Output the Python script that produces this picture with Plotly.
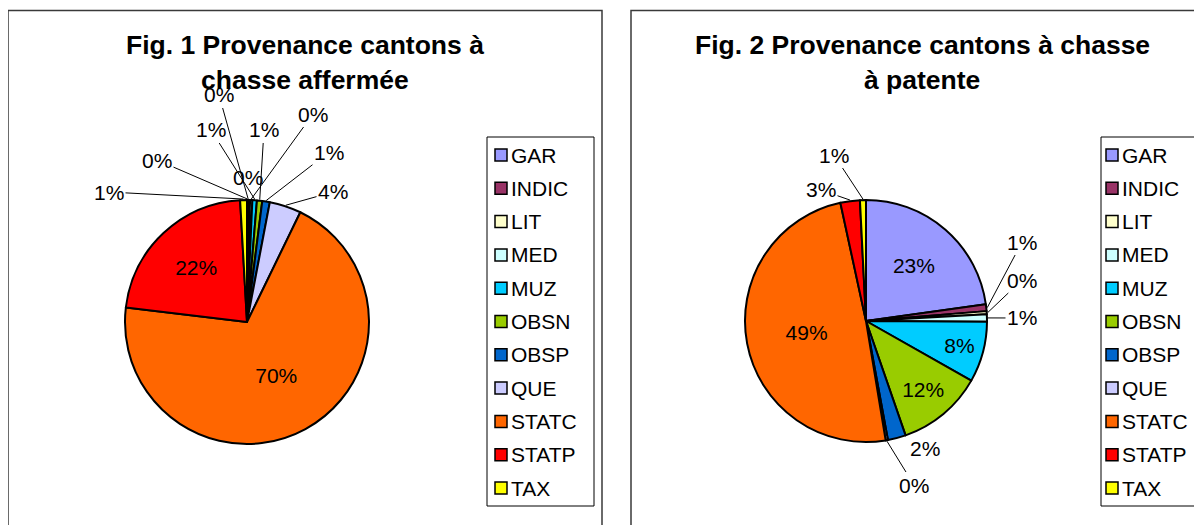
import math
import plotly.graph_objects as go

# ---------------- data ----------------
CATEGORIES = ["GAR", "INDIC", "LIT", "MED", "MUZ", "OBSN", "OBSP", "QUE", "STATC", "STATP", "TAX"]
FIG1_VALUES = [0.1, 0.1, 0.2, 0.3, 0.6, 0.7, 1.0, 4.2, 69.7, 22.2, 0.9]
FIG2_VALUES = [22.8, 0.9, 0.4, 1.0, 8.1, 11.5, 2.4, 0.3, 49.2, 2.6, 0.8]
TITLE1 = ["Fig. 1 Provenance cantons à", "chasse affermée"]
TITLE2 = ["Fig. 2 Provenance cantons à chasse", "à patente"]

# ---------------- style / layout ----------------
COLORS = ["#9999FF", "#993366", "#FFFFCC", "#CCFFFF", "#00CCFF", "#99CC00",
          "#0066CC", "#CCCCFF", "#FF6600", "#FF0000", "#FFFF00"]
W, H = 1202, 525
OFF = 8  # page body margin
FONT = "Arial, Liberation Sans, sans-serif"
LABEL_SIZE = 21
TITLE_SIZE = 26.5

PIE1 = dict(cx=247, cy=322, r=122)
PIE2 = dict(cx=866, cy=321, r=121)
INSIDE1 = {"STATC", "STATP"}
INSIDE2 = {"GAR", "MUZ", "OBSN", "STATC"}
# outside label placements (page pixels)
OUT1 = {"GAR": (157, 160), "INDIC": (219, 95), "LIT": (248, 177), "MED": (313, 114),
        "MUZ": (211, 130), "OBSN": (264, 130), "OBSP": (329, 152), "QUE": (333, 192),
        "TAX": (109, 192)}
OUT2 = {"INDIC": (1022, 242), "LIT": (1022, 280), "MED": (1022, 318), "OBSP": (925, 448),
        "QUE": (914, 485), "STATP": (821, 190), "TAX": (834, 155)}
# legend boxes: (left, right, square inset)
LEGENDS = [(487, 594, 8), (1101, 1199, 5)]


def px(x):
    return (x - OFF) / W


def py(y):
    return 1 - (y - OFF) / H


fig = go.Figure()
annotations = []
shapes = []


def add_pie(values, geo, inside, outside):
    total = sum(values)
    texts = [f"{round(v / total * 100)}%" for v in values]
    cx, cy, r = geo["cx"], geo["cy"], geo["r"]
    fig.add_trace(go.Pie(
        labels=CATEGORIES, values=values, sort=False, direction="clockwise", rotation=0,
        marker=dict(colors=COLORS, line=dict(color="black", width=2)),
        text=texts, textinfo="text",
        textposition=["inside" if c in inside else "none" for c in CATEGORIES],
        insidetextorientation="horizontal",
        textfont=dict(family=FONT, size=LABEL_SIZE, color="black"),
        domain=dict(x=[px(cx - r), px(cx + r)], y=[py(cy + r), py(cy - r)]),
        showlegend=False, hoverinfo="label+percent",
    ))
    cum = 0.0
    for c, v, t in zip(CATEGORIES, values, texts):
        mid = (cum + v / 2) / total
        cum += v
        if c not in outside:
            continue
        th = 2 * math.pi * mid
        tx = cx + (r + 1) * math.sin(th)
        ty = cy - (r + 1) * math.cos(th)
        lx, ly = outside[c]
        dist = math.hypot(lx - tx, ly - ty)
        if dist > 30:
            annotations.append(dict(
                x=px(tx), y=py(ty), xref="paper", yref="paper", text=t,
                showarrow=True, arrowhead=0, arrowwidth=1, arrowcolor="black",
                ax=lx - tx, ay=ly - ty, standoff=0,
                font=dict(family=FONT, size=LABEL_SIZE, color="black"),
            ))
        else:
            annotations.append(dict(
                x=px(lx), y=py(ly), xref="paper", yref="paper", text=t, showarrow=False,
                xanchor="center", yanchor="middle",
                font=dict(family=FONT, size=LABEL_SIZE, color="black"),
            ))


add_pie(FIG1_VALUES, PIE1, INSIDE1, OUT1)
add_pie(FIG2_VALUES, PIE2, INSIDE2, OUT2)

# chart boxes
for x0, x1 in [(8, 602), (631, 1230)]:
    shapes.append(dict(type="rect", xref="paper", yref="paper", x0=px(x0), x1=px(x1),
                       y0=py(10.5), y1=py(570), line=dict(color="#3a3a3a", width=1.5),
                       fillcolor="rgba(0,0,0,0)", layer="below"))

# titles
for lines, cxp in [(TITLE1, 305), (TITLE2, 922)]:
    for i, line in enumerate(lines):
        annotations.append(dict(x=px(cxp), y=py(45 + 35 * i), xref="paper", yref="paper",
                                text=f"<b>{line}</b>", showarrow=False,
                                xanchor="center", yanchor="middle",
                                font=dict(family=FONT, size=TITLE_SIZE, color="black")))

# legends
for bx0, bx1, inset in LEGENDS:
    shapes.append(dict(type="rect", xref="paper", yref="paper", x0=px(bx0), x1=px(bx1),
                       y0=py(137), y1=py(506), line=dict(color="black", width=1),
                       fillcolor="white"))
    for k, (c, col) in enumerate(zip(CATEGORIES, COLORS)):
        yc = 155 + 33.3 * k
        sx = bx0 + inset
        shapes.append(dict(type="rect", xref="paper", yref="paper", x0=px(sx), x1=px(sx + 12),
                           y0=py(yc + 6), y1=py(yc - 6), line=dict(color="black", width=1.5),
                           fillcolor=col))
        annotations.append(dict(x=px(sx + 14), y=py(yc), xref="paper", yref="paper",
                                text=c, showarrow=False, xanchor="left", yanchor="middle",
                                font=dict(family=FONT, size=LABEL_SIZE, color="black")))

fig.update_layout(
    width=W, height=H, margin=dict(l=0, r=0, t=0, b=0),
    paper_bgcolor="white", plot_bgcolor="white",
    shapes=shapes, annotations=annotations,
    uniformtext=dict(minsize=LABEL_SIZE, mode="show"),
    font=dict(family=FONT),
)
fig.write_html("out.html")
